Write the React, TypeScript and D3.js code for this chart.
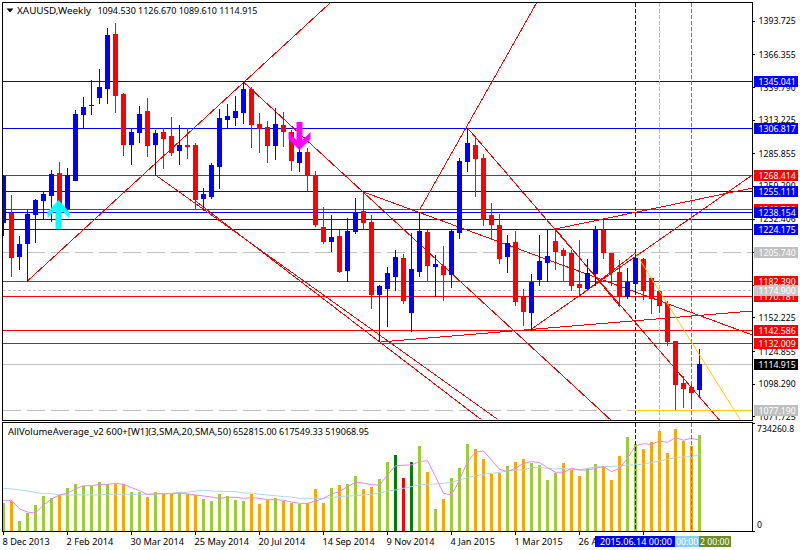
import React from "react";
import * as d3 from "d3";

const opens = [1230.3,1237.8,1202.6,1213.2,1236.8,1248.2,1252.2,1270.2,1241.6,1264.4,1318.2,1325.2,1332.0,1339.3,1383.3,1334.5,1293.8,1303.5,1320.6,1293.8,1303.5,1300.3,1288.9,1292.9,1292.9,1249.8,1251.4,1275.8,1314.1,1315.7,1319.8,1338.5,1310.0,1307.6,1292.9,1309.2,1303.5,1279.1,1287.2,1268.5,1226.2,1214.8,1218.9,1191.2,1222.9,1239.2,1230.3,1171.6,1176.5,1186.3,1200.9,1157.0,1190.4,1222.1,1194.4,1194.4,1187.9,1222.1,1279.9,1292.9,1282.4,1236.0,1227.8,1202.6,1214.0,1170.0,1157.0,1183.9,1197.7,1214.8,1207.5,1205.0,1179.8,1176.5,1188.7,1223.8,1205.0,1189.6,1170.0,1180.6,1200.1,1184.7,1174.1,1163.5,1133.4,1099.2,1095.9,1094.53];
const highs = [1268.5,1252.2,1218.9,1240.0,1249.0,1254.7,1272.6,1279.1,1274.2,1321.4,1332.0,1345.9,1354.8,1388.2,1392.3,1335.3,1306.8,1324.7,1331.2,1305.2,1306.8,1315.7,1309.2,1306.8,1294.6,1257.9,1278.3,1322.3,1326.3,1332.8,1344.2,1340.2,1319.0,1312.5,1323.1,1319.8,1305.2,1297.0,1290.5,1271.8,1242.5,1236.0,1223.8,1233.5,1249.8,1254.7,1236.0,1179.0,1193.6,1207.5,1204.2,1221.3,1238.4,1223.8,1203.4,1210.7,1223.8,1282.4,1306.8,1298.6,1285.6,1245.7,1236.8,1219.7,1222.9,1175.7,1187.9,1219.7,1224.6,1223.8,1209.1,1207.5,1215.6,1200.1,1227.0,1231.9,1205.0,1199.3,1192.8,1204.2,1200.9,1184.7,1174.9,1165.9,1133.4,1104.9,1098.3,1126.67];
const lows = [1219.7,1186.3,1192.0,1182.2,1214.0,1233.5,1231.1,1238.4,1238.4,1264.4,1306.8,1318.2,1327.1,1327.1,1319.8,1284.8,1277.5,1295.4,1284.0,1268.5,1274.2,1284.8,1277.5,1282.4,1241.6,1240.0,1249.8,1257.9,1306.8,1309.2,1310.9,1291.3,1287.2,1279.1,1281.5,1292.1,1272.6,1271.8,1256.3,1227.0,1213.2,1206.6,1189.6,1182.2,1221.3,1225.4,1160.2,1133.4,1145.6,1174.9,1164.3,1141.5,1186.3,1182.2,1170.0,1166.8,1177.3,1217.2,1271.8,1251.4,1227.8,1216.4,1196.9,1189.6,1162.7,1146.4,1142.3,1179.0,1182.2,1192.0,1183.0,1174.9,1170.0,1176.5,1179.0,1200.9,1179.0,1161.9,1168.4,1171.6,1167.6,1156.2,1157.0,1130.1,1077.2,1079.6,1078.8,1089.61];
const closes = [1267.7,1202.0,1212.3,1236.8,1248.2,1253.0,1269.3,1243.3,1268.5,1318.2,1323.9,1325.8,1340.2,1382.5,1333.6,1293.8,1303.5,1318.2,1292.9,1302.7,1298.6,1287.2,1292.9,1292.4,1249.0,1253.0,1276.7,1314.9,1316.6,1320.6,1338.5,1310.0,1306.8,1292.9,1310.0,1304.3,1280.7,1287.2,1268.5,1228.6,1214.8,1218.0,1190.4,1222.9,1238.4,1230.3,1171.6,1178.2,1188.7,1201.8,1166.8,1192.0,1222.9,1195.2,1196.0,1187.9,1222.9,1279.9,1294.6,1282.4,1232.7,1228.6,1200.9,1213.2,1165.9,1157.8,1181.4,1198.5,1202.6,1206.6,1203.4,1179.0,1177.3,1188.7,1224.6,1205.8,1190.4,1170.8,1181.4,1200.9,1174.9,1168.4,1162.7,1133.4,1098.3,1095.1,1091.9,1114.915];

const volumesK = [190,204,68,122,177,238,224,245,292,320,306,306,333,320,322,320,265,265,231,265,252,252,258,252,245,218,204,252,238,211,204,252,184,211,224,204,190,184,190,286,190,292,313,320,374,286,299,354,469,517,360,469,578,401,150,218,360,428,592,558,490,388,394,442,469,490,462,449,347,394,462,415,374,428,456,435,347,510,639,592,558,605,680,530,694,612,578,652.815];
const orangeBars = [1,7,14,15,18,20,21,23,24,31,32,33,35,36,38,39,40,42,45,46,53,55,59,60,61,62,64,65,70,71,72,75,76,77,80,81,82,83,84,85,86];
const darkGreenBars = [49,51];
const redBars = [50];
const sma3K = [209,209,150,129,122,177,218,245,258,286,308,308,317,317,324,317,295,274,249,252,254,254,258,252,245,238,231,222,229,229,222,227,222,213,213,209,197,188,188,204,222,252,268,302,331,326,315,311,381,444,447,449,472,478,370,256,245,347,472,535,544,483,419,404,426,460,472,465,431,399,399,426,415,415,426,438,404,426,494,580,594,589,612,603,635,617,630,617.549];
const sma50K = [290,286,279,272,261,254,254,245,245,245,245,245,245,249,249,249,249,249,249,254,254,256,263,263,272,277,272,270,268,268,258,258,249,245,240,234,231,222,222,222,222,227,234,238,240,245,249,258,272,279,290,302,313,317,320,324,331,347,363,376,385,392,399,408,415,415,431,433,426,422,426,419,415,426,435,438,438,442,449,449,456,465,476,487,499,503,506,519.069];

const priceTicks = [1393.725,1366.355,1339.79,1313.225,1285.855,1259.29,1232.406,1205.74,1178.79,1152.225,1124.855,1098.29,1071.725];
const timeTickLabels = ["8 Dec 2013","2 Feb 2014","30 Mar 2014","25 May 2014","20 Jul 2014","14 Sep 2014","9 Nov 2014","4 Jan 2015","1 Mar 2015","26 Apr 2015"];
const volumeAxis = [734260.8, 0];

const blueLevels = [1345.041,1306.817,1255.111,1238.154,1232.406,1224.175];
const redLevels = [1268.414,1240.7,1182.39,1170.181,1142.586,1132.009];
const longDashLevels = [1205.74,1077.19];
const shortDashLevel = 1174.9;
const lastPrice = 1114.915;

const labelOrder: [number,string][] = [
  [1345.041,"#0000ff"],[1306.817,"#0000ff"],[1268.414,"#ff0000"],[1240.7,"#ff0000"],[1255.111,"#0000ff"],[1238.154,"#0000ff"],[1224.175,"#0000ff"],
  [1205.74,"#c0c0c0"],[1182.39,"#ff0000"],[1170.181,"#ff0000"],[1174.9,"#c8c8c8"],[1142.586,"#ff0000"],[1132.009,"#ff0000"],[1114.915,"#000000"],[1077.19,"#c0c0c0"],
];

// bar index / price anchors
const trendLines = [
  [3,1182.2,41.4,1412],
  [30,1344.2,76.06,1068.2],
  [19,1268.5,61.7,1069.9],
  [24,1247.4,59.6,1069.9],
  [45,1254.7,93.6,1138.3],
  [52,1240.0,66.7,1409.4],
  [58,1306.8,89.6,1068.2],
  [47.2,1132.6,93.6,1157.8],
  [66,1143.1,93.6,1268.5],
  [69,1224.6,93.6,1257.9],
  [69,1224.6,77,1161.9],
  [72,1170.0,79,1205.0],
];
const goldLines = [
  [79,1205.0,92.2,1068.2],
  [79,1077.19,93.6,1077.19],
];
const verticalBars: [number,string][] = [[79,"#0000ff"],[82,"#87ceeb"],[86,"#6b8e23"]];
const upArrow = { bar: 7, price: 1248.2 };
const downArrow = { bar: 37, price: 1288.9 };

const FONT = "'Noto Sans', sans-serif";
const FS = 9.2;
const NUM = 8.7;

const X0 = 2.5, X1 = 752.5, MT = 2.5, MB = 420.5, ST = 422.5, SB = 531.5;

export default function App() {
  const x = d3.scaleLinear().domain([0, 1]).range([3.5, 11.5]);
  const y = d3.scaleLinear().domain([1345.041, 1077.19]).range([81, 410]);
  const yPx = (p: number) => Math.round(y(p));
  const yV = d3.scaleLinear().domain([0, 734260.8]).range([531, 423]);
  const smaLine = d3.line<number>().x((_, i) => x(i)).y((d) => yV(d * 1000)).curve(d3.curveLinear);
  const colorOf = (i: number) =>
    orangeBars.includes(i) ? "#ffa500" : darkGreenBars.includes(i) ? "#008000" : redBars.includes(i) ? "#ff0000" : "#9acd32";

  return (
    <svg width={800} height={550} style={{ position: "fixed", left: 0, top: 0, background: "#fff" }} fontFamily={FONT} fontSize={FS}>
      <defs>
        <clipPath id="main"><rect x={3} y={3} width={749} height={417} /></clipPath>
        <clipPath id="sub"><rect x={3} y={423} width={749} height={108} /></clipPath>
      </defs>
      <rect x={0} y={0} width={800} height={550} fill="#fff" />

      <g clipPath="url(#main)">
        {blueLevels.map((p) => <line key={p} x1={X0} x2={X1} y1={yPx(p) + 0.5} y2={yPx(p) + 0.5} stroke="#0000ff" shapeRendering="crispEdges" />)}
        {redLevels.map((p) => <line key={p} x1={X0} x2={X1} y1={yPx(p) + 0.5} y2={yPx(p) + 0.5} stroke="#ff0000" shapeRendering="crispEdges" />)}
        {longDashLevels.map((p) => <line key={p} x1={X0} x2={X1} y1={yPx(p) + 0.5} y2={yPx(p) + 0.5} stroke="#c0c0c0" strokeDasharray="18 6" shapeRendering="crispEdges" />)}
        <line x1={X0} x2={X1} y1={yPx(shortDashLevel) + 0.5} y2={yPx(shortDashLevel) + 0.5} stroke="#c0c0c0" strokeDasharray="3 2" shapeRendering="crispEdges" />
        <line x1={X0} x2={X1} y1={yPx(lastPrice) + 0.5} y2={yPx(lastPrice) + 0.5} stroke="#c0c0c0" shapeRendering="crispEdges" />
        {verticalBars.map(([b, c]) => <line key={b} x1={x(b)} x2={x(b)} y1={3} y2={420} stroke={c} strokeDasharray="4 2" shapeRendering="crispEdges" />)}
        {trendLines.map((l, i) => <line key={i} x1={x(l[0])} y1={y(l[1])} x2={x(l[2])} y2={y(l[3])} stroke="#ff0000" shapeRendering="crispEdges" />)}

        {closes.map((c, i) => {
          const o = opens[i];
          const col = c >= o ? "#0000ff" : "#ff0000";
          const top = yPx(Math.max(o, c));
          const bot = yPx(Math.min(o, c));
          return (
            <g key={i} fill={col} shapeRendering="crispEdges">
              <rect x={x(i) - 0.5} y={yPx(highs[i])} width={1} height={yPx(lows[i]) - yPx(highs[i]) + 1} />
              <rect x={x(i) - 2.5} y={top} width={5} height={Math.max(1, bot - top + 1)} />
            </g>
          );
        })}
        {goldLines.map((l, i) => <line key={i} x1={x(l[0])} y1={y(l[1])} x2={x(l[2])} y2={y(l[3])} stroke="#ffcc00" shapeRendering={i ? "crispEdges" : "auto"} />)}
        <path transform={`translate(${x(upArrow.bar) - 1},${y(upArrow.price)})`} d="M0,0 L11,12 L11,18 L3,10 L3,29 L-3,29 L-3,10 L-11,18 L-11,12 Z" fill="#00ffff" />
        <path transform={`translate(${x(downArrow.bar)},${y(downArrow.price)})`} d="M0,0 L11,-11 L11,-18 L3,-10 L3,-28 L-3,-28 L-3,-10 L-11,-18 L-11,-11 Z" fill="#ff00ff" />
      </g>

      <g clipPath="url(#sub)">
        {volumesK.map((v, i) => <rect key={i} x={x(i) - 1.5} y={Math.round(yV(v * 1000))} width={3} height={531 - Math.round(yV(v * 1000))} fill={colorOf(i)} shapeRendering="crispEdges" />)}
        <path d={smaLine(sma50K) || ""} fill="none" stroke="#add8e6" />
        <path d={smaLine(sma3K) || ""} fill="none" stroke="#ee82ee" />
        {verticalBars.map(([b, c]) => <line key={b} x1={x(b)} x2={x(b)} y1={423} y2={531} stroke={c} strokeDasharray="4 2" shapeRendering="crispEdges" />)}
      </g>

      <g stroke="#000" fill="none" strokeWidth={1} shapeRendering="crispEdges">
        <path d={`M${X0},${MT} H${X1} V${MB} H${X0} Z`} />
        <path d={`M${X0},${ST} H${X1} V${SB} H${X0} Z`} />
      </g>

      <text x={17} y={14} fill="#000" textLength={74} lengthAdjust="spacingAndGlyphs">XAUUSD,Weekly</text>
      <text x={97.5} y={14} fill="#000" textLength={160} lengthAdjust="spacingAndGlyphs">1094.530 1126.670 1089.610 1114.915</text>
      <path d="M6.5,8.5 H13.5 L10,12.5 Z" fill="#000" />
      <text x={8} y={435} fill="#000" textLength={223} lengthAdjust="spacingAndGlyphs">AllVolumeAverage_v2 600+[W1](3,SMA,20,SMA,50)</text>
      <text x={233} y={435} fill="#000" textLength={136} lengthAdjust="spacingAndGlyphs">652815.00 617549.33 519068.95</text>

      {priceTicks.map((p) => (
        <g key={p}>
          <line x1={752} x2={755} y1={y(p)} y2={y(p)} stroke="#000" shapeRendering="crispEdges" />
          <text x={758.5} y={y(p)} dy="0.36em" fill="#000" fontSize={NUM}>{d3.format(".3f")(p)}</text>
        </g>
      ))}
      {labelOrder.map(([p, c]) => (
        <g key={p}>
          <rect x={754} y={yPx(p) - 5} width={44} height={11} fill={c} />
          <text x={758.5} y={yPx(p) + 0.5} dy="0.36em" fill="#fff" fontSize={NUM}>{d3.format(".3f")(p)}</text>
        </g>
      ))}

      {volumeAxis.map((v) => (
        <g key={v}>
          <line x1={752} x2={755} y1={yV(v)} y2={yV(v)} stroke="#000" shapeRendering="crispEdges" />
          <text x={757} y={v ? yV(v) + 6 : yV(v) - 6} dy="0.36em" fill="#000" fontSize={NUM}>{v ? v.toFixed(1) : "0"}</text>
        </g>
      ))}

      {timeTickLabels.map((t, k) => (
        <g key={t}>
          <line x1={x(k * 8)} x2={x(k * 8)} y1={532} y2={535} stroke="#000" shapeRendering="crispEdges" />
          <text x={x(k * 8) - 1} y={545} fill="#000">{t}</text>
        </g>
      ))}
      <line x1={x(80)} x2={x(80)} y1={532} y2={535} stroke="#000" shapeRendering="crispEdges" />

      <rect x={699} y={536} width={32} height={11} fill="#6b8e23" />
      <text x={700} y={545} fill="#fff" fontSize={NUM}>2 00:00</text>
      <rect x={675} y={536} width={24} height={11} fill="#87cefa" />
      <text x={676} y={545} fill="#fff" fontSize={NUM}>00:00</text>
      <rect x={595} y={536} width={80} height={11} fill="#0000ff" />
      <text x={600} y={545} fill="#fff" textLength={72} lengthAdjust="spacingAndGlyphs">2015.06.14 00:00</text>
    </svg>
  );
}
